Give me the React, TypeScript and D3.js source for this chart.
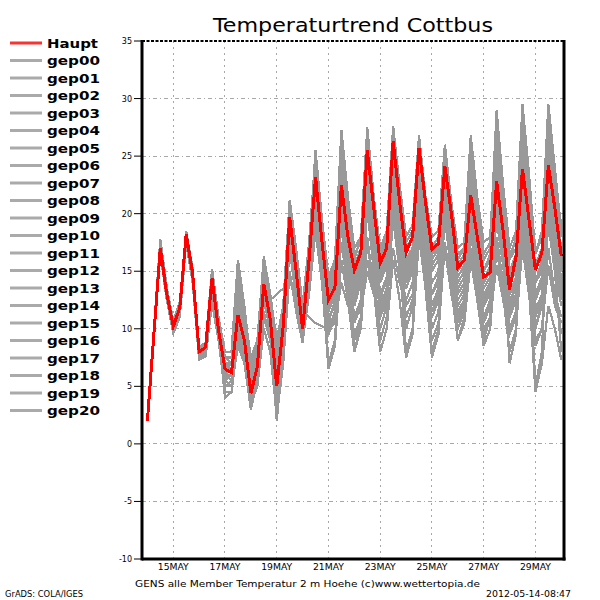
import React from "react";
import * as d3 from "d3";

// time steps: 6-hourly from 14 MAY 00Z to 30 MAY 00Z (hours)
const hours = d3.range(0, 385, 6);

const haupt = [
  2.0, 9.5, 17.0, 13.0, 10.2, 11.8, 18.2, 14.8, 8.0, 8.4, 14.4, 9.9, 6.5, 6.2, 11.2, 9.0,
  4.4, 6.7, 13.9, 10.8, 5.0, 10.2, 19.7, 15.0, 10.0, 16.0, 23.2, 17.5, 12.5, 13.6, 22.5, 18.0,
  15.1, 16.6, 25.5, 20.5, 15.7, 17.0, 26.3, 21.0, 16.6, 18.0, 25.7, 21.0, 16.9, 17.4, 24.1, 20.0,
  15.3, 16.0, 21.6, 18.0, 14.5, 14.9, 22.8, 18.5, 13.4, 16.3, 23.9, 19.5, 15.1, 16.6, 24.2, 20.5, 16.3,
];

const gep00 = [2.0, 9.8, 17.6, 13.2, 10.0, 11.5, 18.0, 14.5, 7.8, 8.2, 14.0, 10.2, 6.8, 6.5, 12.0, 9.5, 5.0, 7.0, 14.5, 11.0, 5.5, 10.5, 20.0, 15.5, 10.5, 16.0, 24.0, 18.0, 13.0, 14.0, 23.5, 18.5, 14.5, 16.0, 24.5, 19.5, 15.0, 16.5, 25.0, 20.0, 15.5, 17.0, 24.0, 19.0, 14.0, 15.0, 22.0, 17.5, 13.0, 14.0, 20.0, 16.0, 12.0, 13.0, 21.0, 16.5, 11.5, 14.0, 24.5, 19.0, 14.0, 15.5, 26.0, 20.0, 15.0];
const gep01 = [2.0, 9.6, 16.8, 12.8, 10.5, 12.0, 18.4, 15.0, 8.2, 8.6, 14.8, 10.5, 7.0, 6.8, 13.0, 10.0, 6.0, 8.0, 15.0, 11.5, 7.0, 11.0, 18.0, 14.0, 11.0, 14.5, 21.0, 15.0, 11.0, 12.0, 19.0, 14.0, 9.0, 11.0, 18.0, 13.5, 10.0, 12.0, 20.0, 15.0, 11.0, 12.5, 19.0, 14.0, 9.0, 10.5, 17.0, 13.0, 10.0, 11.5, 18.5, 14.0, 9.5, 11.0, 20.0, 15.5, 11.0, 12.5, 21.0, 15.0, 9.0, 10.0, 17.0, 13.0, 9.5];
const gep02 = [2.0, 9.4, 17.4, 13.4, 10.4, 12.2, 18.0, 14.6, 8.4, 8.8, 15.0, 10.8, 7.5, 7.5, 14.5, 11.0, 6.5, 8.5, 16.0, 12.5, 8.0, 12.0, 21.0, 16.5, 11.5, 17.0, 25.5, 19.5, 14.0, 16.0, 27.0, 21.0, 16.0, 18.0, 27.5, 21.5, 17.0, 18.5, 27.5, 22.0, 17.5, 18.5, 26.5, 21.5, 17.0, 18.0, 25.5, 20.5, 16.0, 17.0, 26.5, 21.0, 16.5, 17.5, 29.0, 22.5, 16.0, 18.0, 28.5, 22.0, 16.5, 18.0, 27.0, 21.0, 17.0];
const gep03 = [2.0, 9.2, 16.6, 12.6, 9.8, 11.2, 17.6, 14.2, 7.6, 8.0, 13.5, 9.5, 6.0, 6.0, 10.0, 8.5, 6.5, 8.0, 12.0, 12.5, 13.0, 13.5, 14.0, 13.0, 11.5, 11.0, 10.5, 10.2, 10.0, 10.5, 14.0, 12.0, 11.0, 11.5, 15.0, 13.0, 11.5, 12.5, 17.0, 14.0, 12.0, 13.0, 18.5, 15.0, 13.0, 14.0, 22.0, 17.0, 14.0, 15.0, 23.0, 18.0, 13.5, 14.5, 23.5, 18.0, 14.0, 15.0, 20.0, 16.0, 12.0, 12.5, 15.0, 13.0, 11.0];
const gep04 = [2.0, 9.7, 17.2, 13.0, 10.0, 11.6, 18.3, 14.7, 7.4, 7.8, 13.8, 9.6, 4.0, 4.5, 9.5, 7.0, 3.0, 5.5, 13.0, 9.5, 2.0, 8.0, 18.5, 13.0, 9.0, 15.5, 22.5, 15.5, 7.0, 9.0, 19.5, 14.5, 8.0, 10.5, 20.5, 15.0, 9.0, 11.0, 22.0, 16.0, 8.0, 10.0, 21.0, 15.0, 8.0, 10.0, 20.0, 14.5, 9.0, 11.0, 22.5, 16.5, 9.0, 11.0, 24.0, 17.0, 7.0, 9.5, 22.0, 16.0, 5.0, 8.0, 21.0, 15.0, 8.0];
const gep05 = [2.0, 9.9, 17.8, 13.6, 10.6, 12.1, 18.1, 14.9, 8.1, 8.5, 14.6, 10.0, 5.0, 5.5, 12.5, 9.5, 4.0, 6.0, 12.5, 10.0, 4.0, 9.5, 19.0, 14.5, 10.0, 16.5, 24.5, 18.0, 12.0, 14.0, 25.5, 19.5, 14.0, 16.0, 26.5, 20.0, 14.5, 16.0, 25.5, 19.5, 14.0, 15.5, 23.0, 18.0, 13.0, 14.5, 22.5, 17.5, 12.0, 13.0, 19.5, 15.0, 11.0, 12.5, 18.0, 14.0, 10.0, 11.5, 18.5, 14.5, 11.0, 13.0, 22.0, 17.0, 13.0];
const gep06 = [2.0, 9.5, 17.3, 13.1, 10.3, 11.9, 18.5, 15.2, 8.3, 8.7, 15.2, 11.0, 8.0, 8.0, 16.0, 12.0, 7.0, 9.0, 15.5, 12.0, 8.5, 11.5, 19.5, 15.0, 10.5, 15.0, 22.0, 16.5, 13.5, 15.0, 24.5, 19.0, 15.5, 17.0, 25.0, 19.5, 16.0, 17.5, 24.0, 19.0, 15.0, 16.5, 22.0, 17.5, 15.5, 16.5, 23.0, 18.5, 15.0, 16.0, 24.0, 19.0, 14.0, 15.0, 25.5, 20.0, 15.0, 16.5, 26.5, 20.5, 14.0, 15.5, 28.0, 22.0, 18.0];
const gep07 = [2.0, 9.3, 16.9, 12.9, 9.9, 11.4, 17.8, 14.4, 7.7, 8.1, 13.2, 9.3, 5.5, 5.0, 8.5, 7.0, 4.5, 6.0, 11.0, 9.0, 6.0, 10.0, 17.5, 13.5, 11.0, 15.5, 21.5, 16.0, 10.0, 11.5, 17.5, 13.5, 9.5, 11.0, 16.0, 13.0, 11.0, 12.5, 19.5, 15.0, 12.5, 14.0, 21.0, 16.5, 11.5, 13.0, 19.5, 15.0, 10.5, 12.0, 17.0, 13.5, 10.0, 11.0, 15.5, 12.5, 9.5, 11.0, 17.0, 13.0, 8.5, 10.0, 15.5, 12.0, 10.5];
const gep08 = [2.0, 9.6, 17.5, 13.3, 10.1, 11.7, 18.3, 14.8, 7.9, 8.3, 14.2, 10.4, 6.5, 6.5, 14.0, 10.5, 5.5, 7.5, 14.0, 11.0, 5.0, 10.5, 20.5, 16.0, 12.0, 17.5, 25.0, 19.0, 14.0, 15.5, 26.0, 20.0, 15.0, 17.0, 27.0, 21.0, 16.5, 18.0, 26.5, 21.5, 17.0, 18.0, 24.5, 20.5, 16.5, 17.0, 24.5, 20.0, 15.0, 16.0, 25.0, 20.0, 15.0, 16.5, 27.0, 21.5, 16.0, 17.0, 27.5, 22.0, 15.0, 17.0, 29.0, 23.0, 19.0];
const gep09 = [2.0, 9.4, 16.7, 12.7, 10.2, 11.8, 18.0, 14.6, 8.0, 8.4, 14.5, 10.0, 6.0, 6.0, 10.5, 8.0, 4.0, 6.5, 14.5, 11.5, 3.5, 9.5, 19.5, 15.0, 9.5, 15.0, 23.0, 16.5, 10.5, 12.5, 22.0, 16.5, 12.0, 14.0, 23.0, 17.5, 13.0, 14.0, 21.0, 16.5, 12.0, 13.0, 19.5, 15.0, 11.0, 12.5, 20.5, 16.0, 12.5, 13.5, 21.0, 16.5, 13.0, 14.0, 19.5, 15.5, 12.5, 13.5, 20.5, 16.0, 12.5, 14.0, 23.0, 18.0, 14.0];
const gep10 = [2.0, 9.8, 17.7, 13.5, 10.7, 12.3, 18.4, 15.1, 8.4, 8.8, 14.9, 10.9, 7.5, 7.5, 15.0, 11.5, 7.5, 9.0, 16.3, 13.0, 9.0, 12.0, 21.2, 17.0, 12.0, 17.0, 25.5, 19.5, 14.5, 16.0, 27.3, 21.5, 17.0, 18.0, 27.0, 21.5, 17.0, 18.5, 27.6, 22.5, 18.0, 19.0, 26.8, 21.5, 18.0, 18.5, 26.0, 21.0, 17.0, 17.5, 26.8, 21.5, 17.5, 18.0, 28.0, 22.5, 17.0, 18.5, 29.5, 23.5, 16.5, 18.5, 29.5, 24.0, 18.5];
const gep11 = [2.0, 9.1, 16.5, 12.5, 9.6, 11.0, 17.5, 14.0, 7.3, 7.6, 12.2, 9.0, 4.5, 4.5, 9.0, 7.5, 3.5, 5.0, 10.0, 8.0, 2.5, 7.0, 15.0, 11.5, 8.8, 13.5, 19.0, 14.0, 6.5, 8.5, 16.0, 12.5, 8.0, 10.0, 17.5, 13.5, 8.0, 10.0, 16.0, 12.5, 7.5, 9.5, 18.0, 13.5, 7.5, 9.5, 17.5, 13.5, 9.0, 10.5, 16.0, 12.5, 8.5, 10.0, 17.0, 13.0, 8.0, 10.0, 17.5, 13.5, 4.5, 7.0, 12.0, 10.0, 7.3];
const gep12 = [2.0, 9.5, 17.1, 13.0, 10.3, 11.9, 18.2, 14.8, 8.0, 8.4, 14.7, 10.3, 6.5, 6.5, 11.5, 9.0, 5.0, 7.5, 15.5, 12.0, 6.5, 11.0, 20.8, 16.5, 11.5, 16.5, 24.5, 18.5, 12.5, 14.5, 25.0, 19.5, 14.0, 15.5, 24.0, 18.5, 13.0, 14.5, 22.5, 17.5, 13.5, 15.0, 24.5, 19.0, 14.0, 15.0, 21.0, 17.0, 13.5, 14.5, 23.5, 18.0, 12.5, 14.0, 26.0, 20.0, 14.5, 16.5, 25.0, 19.5, 13.0, 14.5, 25.5, 20.0, 16.0];
const gep13 = [2.0, 9.7, 17.4, 13.2, 10.0, 11.5, 17.9, 14.5, 7.6, 8.0, 13.0, 9.8, 6.0, 5.5, 13.5, 10.0, 6.0, 7.0, 12.5, 10.0, 4.5, 9.0, 18.0, 13.5, 10.0, 14.0, 20.0, 15.0, 11.0, 12.0, 21.0, 15.5, 12.5, 14.0, 22.0, 17.0, 12.5, 14.5, 24.5, 19.0, 14.5, 16.0, 25.0, 19.5, 15.0, 16.0, 22.5, 18.0, 14.0, 15.0, 22.0, 17.5, 13.0, 14.0, 21.5, 16.5, 12.0, 13.0, 19.5, 15.0, 10.0, 12.0, 19.0, 15.0, 12.0];
const gep14 = [2.0, 9.4, 17.0, 12.9, 10.2, 11.7, 18.1, 14.7, 7.8, 8.2, 14.1, 10.1, 7.0, 7.0, 12.5, 9.5, 5.0, 6.0, 11.5, 9.0, 4.0, 8.5, 17.0, 12.5, 9.0, 13.0, 18.5, 14.0, 9.5, 11.0, 20.0, 15.0, 10.5, 12.0, 21.0, 16.0, 11.5, 13.0, 23.0, 17.5, 10.0, 12.0, 23.5, 18.0, 12.0, 13.5, 21.5, 16.5, 11.0, 12.5, 19.0, 15.0, 10.5, 12.0, 22.0, 16.5, 11.5, 13.0, 23.0, 17.5, 10.0, 12.5, 24.0, 18.5, 15.0];
const gep15 = [2.0, 9.6, 17.3, 13.1, 10.4, 12.0, 18.3, 14.9, 8.2, 8.6, 14.3, 10.2, 5.5, 6.0, 11.0, 8.5, 4.5, 7.0, 14.0, 11.0, 5.5, 10.0, 19.0, 14.5, 10.0, 15.5, 23.5, 17.5, 13.0, 14.5, 24.0, 18.0, 13.0, 14.5, 24.5, 19.0, 14.0, 15.5, 25.5, 20.0, 16.0, 17.0, 25.5, 20.5, 15.5, 16.5, 24.5, 19.5, 14.5, 15.5, 25.0, 19.5, 15.0, 16.0, 23.5, 19.0, 15.0, 16.5, 23.0, 18.5, 14.0, 15.0, 21.0, 17.0, 14.5];
const gep16 = [2.0, 9.3, 16.8, 12.8, 10.1, 11.6, 18.0, 14.5, 7.7, 8.0, 13.6, 9.8, 6.0, 6.5, 12.0, 9.5, 5.5, 7.5, 13.5, 10.5, 6.0, 10.0, 18.5, 14.0, 10.5, 14.5, 22.0, 16.0, 12.0, 13.0, 23.0, 17.5, 13.5, 15.0, 26.0, 20.0, 15.0, 16.5, 26.0, 20.5, 15.5, 16.5, 23.5, 18.5, 14.0, 15.0, 23.5, 18.5, 15.5, 16.5, 24.5, 19.0, 14.0, 15.5, 24.0, 18.5, 13.0, 14.0, 22.0, 17.0, 12.5, 14.0, 23.5, 18.0, 13.5];
const gep17 = [2.0, 9.5, 16.9, 13.0, 10.3, 11.8, 18.2, 14.8, 8.1, 8.5, 14.5, 10.5, 7.0, 7.0, 13.5, 10.5, 6.5, 8.5, 15.0, 12.0, 7.5, 11.5, 20.0, 15.5, 11.0, 16.0, 24.0, 18.0, 13.5, 15.0, 26.0, 20.0, 15.0, 16.5, 26.5, 20.5, 15.5, 17.0, 25.0, 19.5, 16.0, 17.0, 26.0, 20.5, 16.0, 17.0, 25.0, 19.5, 13.0, 14.0, 20.5, 16.0, 12.0, 13.5, 23.0, 17.5, 12.0, 14.0, 25.5, 19.5, 14.0, 16.0, 26.5, 20.5, 17.0];
const gep18 = [2.0, 9.6, 17.0, 13.1, 10.0, 11.6, 18.0, 14.6, 7.9, 8.3, 14.0, 10.0, 5.0, 5.0, 10.0, 8.0, 3.5, 6.0, 13.0, 10.0, 3.0, 9.0, 18.5, 14.0, 9.5, 14.5, 22.5, 16.5, 11.5, 13.0, 21.5, 16.0, 11.0, 12.5, 21.0, 16.0, 12.0, 13.5, 21.5, 16.5, 11.0, 12.5, 22.0, 17.0, 10.0, 11.5, 19.5, 15.0, 11.5, 12.5, 20.0, 15.0, 11.0, 12.0, 20.5, 15.5, 10.0, 11.5, 21.0, 16.0, 11.5, 13.0, 20.5, 16.0, 12.5];
const gep19 = [2.0, 9.8, 17.6, 13.4, 10.5, 12.0, 18.3, 15.0, 8.3, 8.6, 14.8, 10.6, 7.5, 7.0, 14.5, 11.0, 7.0, 8.5, 15.0, 11.5, 8.0, 11.0, 19.0, 15.0, 12.0, 16.5, 23.5, 18.0, 14.0, 16.0, 25.0, 19.5, 16.5, 17.5, 26.0, 20.5, 16.0, 17.0, 24.5, 19.5, 16.0, 17.0, 25.0, 20.0, 16.5, 17.5, 25.5, 20.5, 16.5, 17.0, 23.0, 19.0, 16.0, 17.0, 26.5, 21.0, 16.5, 17.5, 24.0, 19.5, 15.5, 17.0, 25.0, 20.0, 16.0];
const gep20 = [2.0, 9.5, 17.2, 13.2, 10.2, 11.9, 18.4, 15.0, 8.2, 8.6, 14.9, 10.7, 6.5, 7.0, 15.5, 11.5, 6.0, 8.0, 14.5, 11.0, 7.0, 11.0, 20.5, 16.0, 11.5, 16.0, 23.0, 17.0, 12.0, 13.5, 22.0, 17.0, 14.0, 15.0, 23.0, 18.0, 14.5, 16.0, 26.5, 20.5, 15.0, 16.0, 24.0, 19.0, 15.0, 16.0, 23.0, 18.0, 13.5, 14.5, 21.5, 17.0, 14.0, 15.0, 24.5, 19.0, 13.0, 14.5, 26.0, 20.0, 15.0, 16.5, 27.5, 21.5, 15.5];

const members = [gep00, gep01, gep02, gep03, gep04, gep05, gep06, gep07, gep08, gep09, gep10,
  gep11, gep12, gep13, gep14, gep15, gep16, gep17, gep18, gep19, gep20];
const memberNames = members.map((_, i) => "gep" + String(i).padStart(2, "0"));

const yTicks = [35, 30, 25, 20, 15, 10, 5, 0, -5, -10];
const xTickHours = [24, 72, 120, 168, 216, 264, 312, 360];
const xTickLabels = ["15MAY", "17MAY", "19MAY", "21MAY", "23MAY", "25MAY", "27MAY", "29MAY"];

const title = "Temperaturtrend Cottbus";
const subtitle = "GENS alle Member Temperatur 2 m Hoehe (c)www.wettertopia.de";
const credit = "GrADS: COLA/IGES";
const stamp = "2012-05-14-08:47";

const LEFT = 142, RIGHT = 564, TOP = 41, BOTTOM = 559;
const FONT = "'DejaVu Sans', sans-serif";

export default function App() {
  const x = d3.scaleLinear().domain([-5, 386.5]).range([LEFT, RIGHT]);
  const y = d3.scaleLinear().domain([-10, 35]).range([BOTTOM, TOP]);
  const line = d3.line<number>().x((_, i) => x(hours[i])).y((d) => y(d));

  return (
    <svg width={600} height={600} style={{ position: "absolute", left: 0, top: 0, background: "#fff" }}>
      <rect x={0} y={0} width={600} height={600} fill="#fff" />
      {/* grid */}
      {yTicks.filter((t) => t !== 35 && t !== -10).map((t) => (
        <line key={"hy" + t} x1={LEFT} x2={RIGHT} y1={y(t)} y2={y(t)} stroke="#a8a8a8" strokeWidth={1} strokeDasharray="4,3,1,3" shapeRendering="crispEdges" />
      ))}
      {xTickHours.map((h) => (
        <line key={"vx" + h} x1={x(h)} x2={x(h)} y1={TOP} y2={BOTTOM + 3} stroke="#a8a8a8" strokeWidth={1} strokeDasharray="2,4" shapeRendering="crispEdges" />
      ))}
      <defs>
        <clipPath id="clip"><rect x={LEFT} y={TOP} width={RIGHT - LEFT} height={BOTTOM - TOP} /></clipPath>
      </defs>
      {/* members */}
      <g clipPath="url(#clip)">
        {members.map((m, i) => (
          <path key={i} d={line(m) || ""} fill="none" stroke="#999999" strokeWidth={2.2} shapeRendering="crispEdges" />
        ))}
        <path d={line(haupt) || ""} fill="none" stroke="#ff0000" strokeWidth={3} shapeRendering="crispEdges" />
      </g>
      {/* frame */}
      <line x1={LEFT} x2={RIGHT} y1={TOP} y2={TOP} stroke="#000" strokeWidth={2} strokeDasharray="3,1.5" />
      <line x1={RIGHT} x2={RIGHT} y1={TOP - 1} y2={BOTTOM + 1.5} stroke="#000" strokeWidth={3} />
      <line x1={LEFT} x2={RIGHT + 1.5} y1={BOTTOM} y2={BOTTOM} stroke="#000" strokeWidth={3} />
      <line x1={LEFT} x2={LEFT} y1={TOP - 1} y2={BOTTOM + 1.5} stroke="#000" strokeWidth={3} />
      {/* y ticks */}
      {yTicks.map((t) => (
        <g key={"yt" + t}>
          <line x1={134} x2={LEFT} y1={y(t)} y2={y(t)} stroke="#000" strokeWidth={1} />
          <text x={132} y={y(t) + 3} textAnchor="end" fontFamily={FONT} fontSize={8} fill="#000">{t}</text>
        </g>
      ))}
      {/* x labels */}
      {xTickHours.map((h, i) => (
        <text key={"xl" + h} x={x(h)} y={570} textAnchor="middle" fontFamily={FONT} fontSize={8.5}
          textLength={31} lengthAdjust="spacingAndGlyphs" fill="#000">{xTickLabels[i]}</text>
      ))}
      {/* title */}
      <text x={213} y={31.5} fontFamily={FONT} fontSize={19} textLength={280} lengthAdjust="spacingAndGlyphs" fill="#000">{title}</text>
      {/* footer */}
      <text x={135} y={587} fontFamily={FONT} fontSize={9} textLength={345} lengthAdjust="spacingAndGlyphs" fill="#000">{subtitle}</text>
      <text x={5} y={597} fontFamily={FONT} fontSize={8} textLength={78} lengthAdjust="spacingAndGlyphs" fill="#000">{credit}</text>
      <text x={486} y={597} fontFamily={FONT} fontSize={8.5} textLength={85} lengthAdjust="spacingAndGlyphs" fill="#000">{stamp}</text>
      {/* legend */}
      <g>
        <line x1={10} x2={42} y1={43} y2={43} stroke="#ff3030" strokeWidth={3} />
        <text x={47} y={47.5} fontFamily={FONT} fontWeight="bold" fontSize={12.5} textLength={51} lengthAdjust="spacingAndGlyphs" fill="#000">Haupt</text>
        {memberNames.map((n, i) => {
          const ly = 43 + (i + 1) * 17.5;
          return (
            <g key={n}>
              <line x1={10} x2={42} y1={ly} y2={ly} stroke="#aaaaaa" strokeWidth={3} />
              <text x={47} y={ly + 4.5} fontFamily={FONT} fontWeight="bold" fontSize={12.5} textLength={53} lengthAdjust="spacingAndGlyphs" fill="#000">{n}</text>
            </g>
          );
        })}
      </g>
    </svg>
  );
}
